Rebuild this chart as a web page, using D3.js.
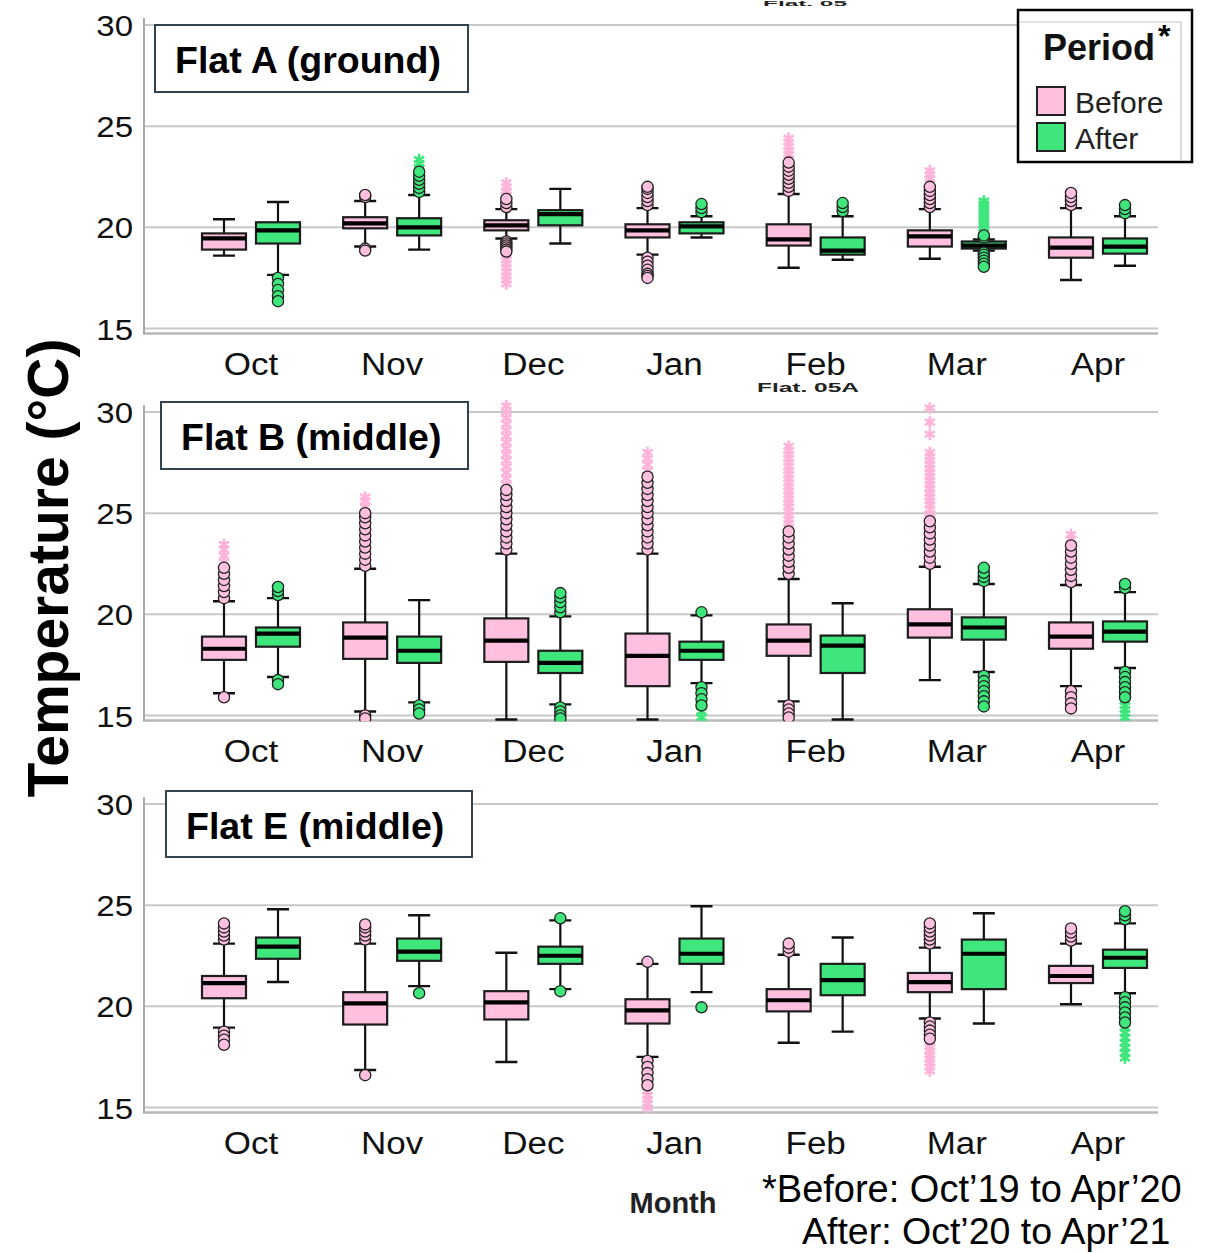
<!DOCTYPE html>
<html>
<head>
<meta charset="utf-8">
<script src="https://cdn.jsdelivr.net/npm/d3@7"></script>
<style>
  html, body { margin: 0; padding: 0; background: #fff; }
  svg { display: block; }
  text { font-family: "Liberation Sans", Arial, sans-serif; }
</style>
</head>
<body>
<svg id="chart" width="1210" height="1253"></svg>
<script>
// ---- categories & labels ----
const months = ["Oct", "Nov", "Dec", "Jan", "Feb", "Mar", "Apr"];
const periods = ["Before", "After"];
const flatTitles = ["Flat A (ground)", "Flat B (middle)", "Flat E (middle)"];
const yTicks = [15, 20, 25, 30];
const footnote = ["*Before: Oct\u201919 to Apr\u201920", "After: Oct\u201920 to Apr\u201921"];

// ---- box statistics: [lower whisker, Q1, median, Q3, upper whisker] per month ----
const flatA_before = [
  [18.6, 18.9, 19.45, 19.7, 20.4], [19.05, 19.95, 20.2, 20.5, 21.3], [19.45, 19.85, 20.1, 20.35, 20.9],
  [18.65, 19.5, 19.85, 20.15, 20.95], [18.0, 19.1, 19.4, 20.15, 21.65], [18.45, 19.05, 19.55, 19.85, 20.9],
  [17.4, 18.5, 19.0, 19.5, 20.95]
];
const flatA_after = [
  [17.65, 19.2, 19.85, 20.25, 21.25], [18.9, 19.6, 20.0, 20.45, 21.6], [19.2, 20.1, 20.65, 20.85, 21.9],
  [19.5, 19.7, 20.05, 20.25, 20.55], [18.4, 18.65, 18.85, 19.5, 20.55], [18.85, 18.95, 19.1, 19.3, 19.4],
  [18.1, 18.7, 19.05, 19.45, 20.55]
];
const flatB_before = [
  [16.1, 17.75, 18.3, 18.9, 20.65], [15.2, 17.8, 18.85, 19.6, 22.25], [14.8, 17.65, 18.7, 19.8, 23.0],
  [14.8, 16.45, 17.95, 19.05, 23.0], [15.7, 17.95, 18.7, 19.5, 21.75], [16.75, 18.85, 19.5, 20.25, 22.35],
  [16.45, 18.3, 18.9, 19.6, 21.45]
];
const flatB_after = [
  [16.9, 18.4, 19.05, 19.35, 20.8], [15.65, 17.6, 18.2, 18.9, 20.7], [15.55, 17.1, 17.6, 18.2, 19.9],
  [16.6, 17.75, 18.2, 18.65, 19.95], [14.8, 17.1, 18.45, 18.95, 20.55], [17.15, 18.75, 19.35, 19.85, 21.5],
  [17.35, 18.65, 19.15, 19.65, 21.1]
];
const flatE_before = [
  [18.95, 20.4, 21.15, 21.5, 23.1], [16.85, 19.1, 20.15, 20.7, 23.1], [17.25, 19.35, 20.2, 20.75, 22.65],
  [17.5, 19.15, 19.8, 20.35, 22.1], [18.2, 19.75, 20.3, 20.85, 22.55], [19.4, 20.7, 21.2, 21.65, 22.9],
  [20.1, 21.15, 21.5, 22.0, 23.1]
];
const flatE_after = [
  [21.2, 22.35, 22.95, 23.4, 24.8], [21.0, 22.25, 22.7, 23.35, 24.5], [20.85, 22.1, 22.5, 22.95, 24.25],
  [20.7, 22.1, 22.6, 23.35, 24.95], [18.75, 20.55, 21.3, 22.1, 23.4], [19.15, 20.85, 22.6, 23.3, 24.6],
  [20.65, 21.9, 22.4, 22.8, 24.1]
];

// ---- outliers (circles) and extreme values (stars) per month ----
const flatA_beforeOut = [
  [], [21.5, 21.6, 18.95, 18.85], [21.0, 21.2, 21.4, 19.3, 19.2, 19.1, 19.0, 18.9, 18.8],
  [21.1, 21.3, 21.5, 21.7, 21.9, 22.0, 18.5, 18.3, 18.1, 17.9, 17.7, 17.6, 17.5],
  [21.8, 22.0, 22.2, 22.4, 22.6, 22.8, 23.0, 23.2], [21.0, 21.2, 21.4, 21.6, 21.8, 22.0],
  [21.1, 21.3, 21.5, 21.7]
];
const flatA_beforeExt = [
  [], [], [21.6, 21.8, 22.0, 22.2, 18.6, 18.4, 18.2, 18.0, 17.8, 17.6, 17.4, 17.2],
  [], [23.4, 23.6, 23.8, 24.0, 24.2, 24.4], [22.2, 22.4, 22.6, 22.8], []
];
const flatA_afterOut = [
  [17.5, 17.2, 16.9, 16.6, 16.35], [21.75, 21.95, 22.15, 22.35, 22.55, 22.75], [],
  [20.75, 20.95, 21.15], [20.8, 21.0, 21.2],
  [19.5, 19.6, 18.75, 18.65, 18.5, 18.35, 18.2, 18.05], [20.7, 20.9, 21.1]
];
const flatA_afterExt = [
  [], [22.95, 23.15, 23.35], [], [], [],
  [19.8, 19.95, 20.1, 20.25, 20.4, 20.55, 20.7, 20.85, 21.0, 21.15, 21.3], []
];
const flatB_beforeOut = [
  [20.8, 21.1, 21.4, 21.7, 22.0, 22.3, 15.9],
  [22.4, 22.7, 23.0, 23.3, 23.6, 23.9, 24.2, 24.5, 24.8, 25.0, 15.0, 14.85],
  [23.2, 23.5, 23.8, 24.1, 24.4, 24.7, 25.0, 25.3, 25.6, 25.9, 26.15],
  [23.2, 23.5, 23.8, 24.1, 24.4, 24.7, 25.0, 25.3, 25.6, 25.9, 26.2, 26.5, 26.8],
  [22.0, 22.3, 22.6, 22.9, 23.2, 23.5, 23.8, 24.1, 15.5, 15.3, 15.1, 14.9],
  [22.5, 22.8, 23.1, 23.4, 23.7, 24.0, 24.3, 24.6],
  [21.6, 21.9, 22.2, 22.5, 22.8, 23.1, 23.4, 16.2, 15.9, 15.6, 15.35]
];
const flatB_beforeExt = [
  [22.6, 22.9, 23.2, 23.45], [25.3, 25.6, 25.8],
  [26.4, 26.7, 27.0, 27.3, 27.6, 27.9, 28.2, 28.5, 28.8, 29.1, 29.4, 29.7, 30.0, 30.3],
  [27.1, 27.4, 27.7, 28.0],
  [24.3, 24.5, 24.7, 24.9, 25.1, 25.3, 25.5, 25.7, 25.9, 26.1, 26.3, 26.5, 26.7, 26.9, 27.1, 27.3,
   27.5, 27.7, 27.9, 28.1, 28.3],
  [24.8, 25.0, 25.2, 25.4, 25.6, 25.8, 26.0, 26.2, 26.4, 26.6, 26.8, 27.0, 27.2, 27.4, 27.6, 27.8,
   28.0, 28.9, 29.5, 30.2],
  [23.7, 23.95]
];
const flatB_afterOut = [
  [20.95, 21.15, 21.35, 16.75, 16.55], [15.5, 15.3, 15.1],
  [20.1, 20.35, 20.6, 20.85, 21.05, 15.4, 15.2, 15.0, 14.85],
  [20.1, 16.4, 16.1, 15.8, 15.5], [],
  [21.65, 21.85, 22.05, 22.3, 16.95, 16.7, 16.45, 16.2, 15.95, 15.7, 15.45],
  [21.3, 21.5, 17.15, 16.9, 16.65, 16.4, 16.15, 15.9]
];
const flatB_afterExt = [
  [], [], [], [15.2, 14.9], [], [], [15.7, 15.5, 15.3, 15.1, 14.9]
];
const flatE_beforeOut = [
  [23.3, 23.5, 23.7, 23.9, 24.1, 18.75, 18.55, 18.35, 18.1], [23.3, 23.5, 23.7, 23.9, 24.05, 16.6], [],
  [22.2, 17.3, 17.0, 16.7, 16.4, 16.1], [22.7, 22.9, 23.1],
  [23.1, 23.3, 23.5, 23.7, 23.9, 24.1, 19.2, 19.0, 18.8, 18.6, 18.4], [23.25, 23.45, 23.65, 23.85]
];
const flatE_beforeExt = [
  [], [], [], [15.8, 15.6, 15.4, 15.2, 15.0], [],
  [18.2, 18.0, 17.8, 17.6, 17.4, 17.2, 17.0, 16.8], []
];
const flatE_afterOut = [
  [], [20.65], [24.35, 20.75], [19.95], [], [],
  [24.3, 24.5, 24.7, 20.45, 20.2, 19.95, 19.7, 19.45, 19.2]
];
const flatE_afterExt = [
  [], [], [], [], [], [], [18.95, 18.7, 18.45, 18.2, 17.95, 17.7, 17.45]
];

// assemble the three panels
const panels = [
  { title: flatTitles[0],
    Before: { box: flatA_before, out: flatA_beforeOut, ext: flatA_beforeExt },
    After:  { box: flatA_after,  out: flatA_afterOut,  ext: flatA_afterExt } },
  { title: flatTitles[1],
    Before: { box: flatB_before, out: flatB_beforeOut, ext: flatB_beforeExt },
    After:  { box: flatB_after,  out: flatB_afterOut,  ext: flatB_afterExt } },
  { title: flatTitles[2],
    Before: { box: flatE_before, out: flatE_beforeOut, ext: flatE_beforeExt },
    After:  { box: flatE_after,  out: flatE_afterOut,  ext: flatE_afterExt } }
];

// ---- layout ----
const svg = d3.select("#chart");
const plotLeft = 144, plotRight = 1158;
const panelTop = [25, 412, 804];
const panelH = 303.5;
const titleBoxes = [
  { x: 155, y: 25, w: 313, h: 67, tx: 175, ty: 73 },
  { x: 161, y: 402, w: 307, h: 67, tx: 181, ty: 450 },
  { x: 166, y: 791, w: 306, h: 66, tx: 186, ty: 839 }
];
const fill = { Before: "#FFC0E0", After: "#3FE67B" };
const starColor = { Before: "#FFB3D8", After: "#3FE67B" };
const gridColor = "#c8c8c8";

const x = d3.scalePoint().domain(months).range([251, 1098]);
const off = d3.scaleBand().domain(periods).range([-49, 49]).paddingInner(0.185);
const bw = off.bandwidth();
const capW = 22;

const defs = svg.append("defs");

function stretchedText(g, txt, tx, ty, size, sx, anchor, weight) {
  return g.append("text")
    .attr("transform", `translate(${tx},${ty}) scale(${sx},1)`)
    .attr("text-anchor", anchor || "start")
    .attr("font-size", size)
    .attr("font-weight", weight || "normal")
    .attr("fill", "#111")
    .text(txt);
}

panels.forEach((p, pi) => {
  const top = panelTop[pi];
  const y = d3.scaleLinear().domain([15, 30]).range([top + panelH, top]);
  const g = svg.append("g");

  // gridlines
  g.selectAll(".grid").data(yTicks).join("line")
    .attr("x1", plotLeft).attr("x2", plotRight)
    .attr("y1", d => y(d)).attr("y2", d => y(d))
    .attr("stroke", gridColor).attr("stroke-width", 2);
  // bottom axis line and left axis line
  g.append("line").attr("x1", plotLeft).attr("x2", plotRight)
    .attr("y1", y(15) + 5).attr("y2", y(15) + 5)
    .attr("stroke", "#b9b9b9").attr("stroke-width", 2.5);
  g.append("line").attr("x1", plotLeft).attr("x2", plotLeft)
    .attr("y1", y(30) - 7).attr("y2", y(15) + 6)
    .attr("stroke", "#aaaaaa").attr("stroke-width", 2);

  // y tick labels
  yTicks.forEach(t => {
    stretchedText(g, String(t), 133, y(t) + 11, 30, 1.1, "end");
  });
  // month labels
  months.forEach(m => {
    stretchedText(g, m, x(m), y(15) + 46, 31, 1.13, "middle");
  });

  // title box
  const tb = titleBoxes[pi];
  g.append("rect").attr("x", tb.x).attr("y", tb.y).attr("width", tb.w).attr("height", tb.h)
    .attr("fill", "#fff").attr("stroke", "#33434e").attr("stroke-width", 2);
  g.append("text").attr("x", tb.tx).attr("y", tb.ty)
    .attr("font-size", 37.5).attr("font-weight", "bold").attr("fill", "#000")
    .text(p.title);

  // boxes, clipped just below the axis
  const clipId = "clip" + pi;
  defs.append("clipPath").attr("id", clipId).append("rect")
    .attr("x", plotLeft).attr("y", y(30) - 20)
    .attr("width", plotRight - plotLeft).attr("height", y(14.72) - (y(30) - 20));
  const bg = g.append("g").attr("clip-path", `url(#${clipId})`);

  periods.forEach(per => {
    const s = p[per];
    months.forEach((m, mi) => {
      const [lo, q1, med, q3, hi] = s.box[mi];
      const cx = x(m) + off(per) + bw / 2;
      const bx = bg.append("g");
      // whiskers
      bx.append("line").attr("x1", cx).attr("x2", cx).attr("y1", y(hi)).attr("y2", y(lo))
        .attr("stroke", "#111").attr("stroke-width", 2.2);
      [lo, hi].forEach(v => bx.append("line")
        .attr("x1", cx - capW / 2).attr("x2", cx + capW / 2)
        .attr("y1", y(v)).attr("y2", y(v))
        .attr("stroke", "#111").attr("stroke-width", 2.4));
      // box
      bx.append("rect").attr("x", cx - bw / 2).attr("width", bw)
        .attr("y", y(q3)).attr("height", Math.max(1, y(q1) - y(q3)))
        .attr("fill", fill[per]).attr("stroke", "#1d1d1d").attr("stroke-width", 2.2);
      // median
      bx.append("line").attr("x1", cx - bw / 2).attr("x2", cx + bw / 2)
        .attr("y1", y(med)).attr("y2", y(med))
        .attr("stroke", "#000").attr("stroke-width", 4.2);
      // extreme values (stars)
      bx.selectAll(".star").data(s.ext[mi]).join("path")
        .attr("d", d3.symbol(d3.symbolAsterisk, 95)())
        .attr("transform", d => `translate(${cx},${y(d)})`)
        .attr("fill", "none").attr("stroke", starColor[per]).attr("stroke-width", 2.6);
      // outliers (circles)
      bx.selectAll(".out").data(s.out[mi]).join("circle")
        .attr("cx", cx).attr("cy", d => y(d)).attr("r", 5.6)
        .attr("fill", fill[per]).attr("stroke", "#222").attr("stroke-width", 1.3);
    });
  });
});

// small header fragments above the top and middle panels
svg.append("text").attr("x", 763).attr("y", 6)
  .attr("font-size", 7).attr("font-weight", "bold").attr("fill", "#222")
  .attr("textLength", 84).attr("lengthAdjust", "spacingAndGlyphs").text("Flat. 05");
svg.append("text").attr("x", 757).attr("y", 392)
  .attr("font-size", 13).attr("font-weight", "bold").attr("fill", "#222")
  .attr("textLength", 102).attr("lengthAdjust", "spacingAndGlyphs").text("Flat. 05A");

// legend
const lg = svg.append("g");
lg.append("rect").attr("x", 1018).attr("y", 10).attr("width", 174).attr("height", 152)
  .attr("fill", "#fff").attr("stroke", "#000").attr("stroke-width", 2.5);
lg.append("line").attr("x1", 1019).attr("x2", 1181).attr("y1", 22).attr("y2", 22)
  .attr("stroke", "#c4c4c4").attr("stroke-width", 1.2);
lg.append("line").attr("x1", 1181).attr("x2", 1181).attr("y1", 22).attr("y2", 161)
  .attr("stroke", "#c4c4c4").attr("stroke-width", 1.2);
lg.append("text").attr("x", 1043).attr("y", 60).attr("font-size", 36).attr("font-weight", "bold")
  .attr("fill", "#111").text("Period");
lg.append("text").attr("x", 1158).attr("y", 47).attr("font-size", 32).attr("font-weight", "bold")
  .attr("fill", "#000").text("*");
periods.forEach((per, i) => {
  lg.append("rect").attr("x", 1037).attr("y", 87 + i * 36).attr("width", 28).attr("height", 28)
    .attr("fill", fill[per]).attr("stroke", "#222").attr("stroke-width", 2);
  lg.append("text").attr("x", 1075).attr("y", 113 + i * 36).attr("font-size", 30)
    .attr("fill", "#222").text(per);
});

// y-axis title
svg.append("text")
  .attr("transform", "translate(68,568) rotate(-90)")
  .attr("text-anchor", "middle").attr("font-size", 57).attr("font-weight", "bold")
  .attr("fill", "#000").text("Temperature (\u00B0C)");

// x-axis title and period footnote
svg.append("text").attr("x", 673).attr("y", 1213).attr("text-anchor", "middle")
  .attr("font-size", 29).attr("font-weight", "bold").attr("fill", "#222").text("Month");
svg.append("text").attr("x", 762).attr("y", 1202).attr("font-size", 38).attr("fill", "#000").text(footnote[0]);
svg.append("text").attr("x", 802).attr("y", 1244).attr("font-size", 37.5).attr("fill", "#000").text(footnote[1]);
</script>
</body>
</html>
